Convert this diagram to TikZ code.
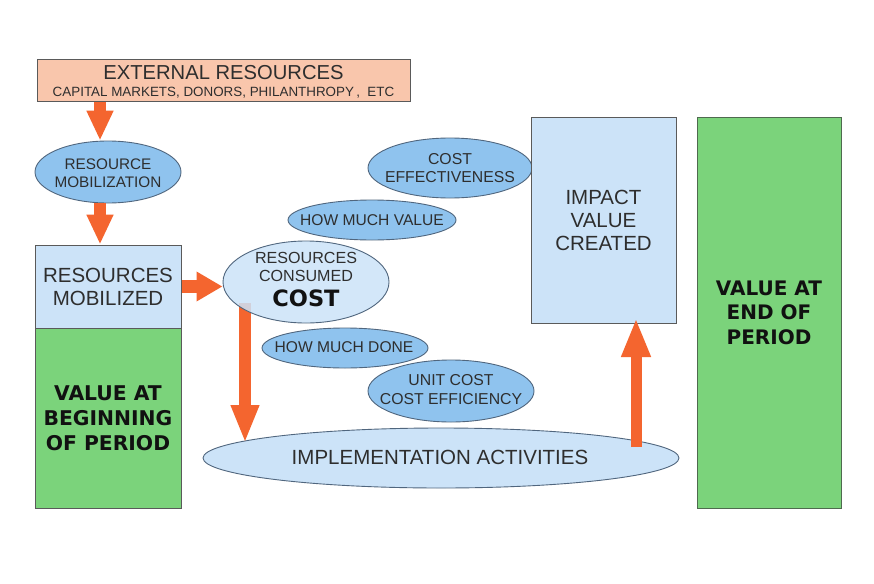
\documentclass[tikz,border=0pt]{standalone}
\usepackage{fontspec}
\setmainfont{Liberation Sans}
\newfontfamily\vfont{DejaVu Sans}
\usetikzlibrary{shapes.geometric,arrows.meta}
\definecolor{orng}{HTML}{F4652F}
\definecolor{salmon}{HTML}{F9C6AC}
\definecolor{ltblue}{HTML}{CCE3F8}
\definecolor{mdblue}{HTML}{8FC3EE}
\definecolor{grn}{HTML}{7BD37B}
\definecolor{edge}{HTML}{5A5A5A}
\definecolor{gedge}{HTML}{4F6A4F}
\definecolor{bedge}{HTML}{50667E}
\definecolor{txt}{HTML}{2E2E2E}
\definecolor{btxt}{HTML}{111111}
\tikzset{
  box/.style={draw=edge, line width=1pt, inner sep=0pt},
  blob/.style={ellipse, draw=bedge, line width=0.9pt, fill=mdblue, inner sep=0pt},
  lblob/.style={blob, fill=ltblue},
  lbl/.style={inner sep=0pt, align=center, text=txt},
  blbl/.style={inner sep=0pt, align=center, text=btxt},
  oarrow/.style={draw=orng, line cap=butt},
}
\begin{document}
\begin{tikzpicture}[x=1pt,y=-1pt]
\useasboundingbox (0,0) rectangle (874,583);
\fill[white] (0,0) rectangle (874,583);

% top box
\node[box, fill=salmon, minimum width=373pt, minimum height=42pt] (ext) at (223.5,81) {};
\node[lbl, font=\fontsize{20.2}{24}\selectfont] (extA) at (223.5,73) {EXTERNAL RESOURCES};
\node[lbl, font=\fontsize{13.4}{16}\selectfont, anchor=base] (extB) at (223.5,96.5) {CAPITAL MARKETS, DONORS, PHILANTHROPY\,,\ \ ETC};

% resource mobilization
\node[blob, minimum width=146pt, minimum height=62pt] (rm) at (108,172) {};
\node[lbl, font=\fontsize{15.3}{18}\selectfont] (rmT) at (108,173) {RESOURCE\\MOBILIZATION};

% left boxes
\node[box, fill=ltblue, minimum width=146pt, minimum height=83pt] (mob) at (108,286.5) {};
\node[box, fill=grn, minimum width=146pt, minimum height=180pt] (beg) at (108,418) {};
\node[lbl, font=\fontsize{20.5}{23}\selectfont] (mobT) at (108,286.5) {RESOURCES\\MOBILIZED};
\node[blbl, font=\vfont\bfseries\fontsize{20.3}{25}\selectfont] (begT) at (108,418) {VALUE AT\\BEGINNING\\OF PERIOD};

% implementation
\node[lblob, minimum width=476pt, minimum height=60pt] (impl) at (441,458) {};
\node[lbl, font=\fontsize{20.5}{24}\selectfont] (implT) at (440,457) {IMPLEMENTATION ACTIVITIES};

% small ellipses
\node[blob, minimum width=164pt, minimum height=60pt] (ce) at (450,168) {};
\node[lbl, font=\fontsize{15.8}{18}\selectfont] (ceT) at (450,168) {COST\\EFFECTIVENESS};
\node[blob, minimum width=168pt, minimum height=40pt] (hv) at (372,220) {};
\node[lbl, font=\fontsize{15.6}{18}\selectfont] (hvT) at (372,220) {HOW MUCH VALUE};
\node[blob, minimum width=166pt, minimum height=40pt] (hd) at (345,348) {};
\node[lbl, font=\fontsize{15.6}{18}\selectfont] (hdT) at (344,347) {HOW MUCH DONE};
\node[blob, minimum width=166pt, minimum height=62pt] (uc) at (451,391) {};
\node[lbl, font=\fontsize{15.8}{19}\selectfont] (ucT) at (451,389.5) {UNIT COST\\COST EFFICIENCY};

% down arrow (behind cost ellipse)
\coordinate (d1) at (245,303);
\coordinate (d2) at (245,443);
\draw[oarrow, line width=12pt, -{Triangle[width=26pt,length=38pt]}] (d1) -- (d2);

% cost ellipse
\node[lblob, fill opacity=0.85, draw opacity=1, minimum width=166pt, minimum height=82pt] (cost) at (306,282) {};
\node[lbl, font=\fontsize{16.1}{18}\selectfont] (costA) at (306,267) {RESOURCES\\CONSUMED};
\node[blbl, font=\vfont\bfseries\fontsize{22.5}{26}\selectfont] (costB) at (306,298) {COST};

% right boxes
\node[box, fill=ltblue, minimum width=145pt, minimum height=206pt] (imp) at (603.5,220) {};
\node[lbl, font=\fontsize{20.5}{23}\selectfont] (impT) at (603.5,220) {IMPACT\\VALUE\\CREATED};
\node[box, draw=gedge, fill=grn, minimum width=144pt, minimum height=391pt] (endv) at (769,312.5) {};
\node[blbl, font=\vfont\bfseries\fontsize{20}{24.5}\selectfont] (endT) at (769,312.5) {VALUE AT\\END OF\\PERIOD};

% arrows
\coordinate (c1) at (100,0);
\draw[oarrow, line width=12pt, -{Triangle[width=25pt,length=30pt]}] (ext.south -| c1) -- (rm.north -| c1);
\draw[oarrow, line width=12pt, -{Triangle[width=25pt,length=30pt]}] (rm.south -| c1) -- (mob.north -| c1);
\draw[oarrow, line width=13pt, -{Triangle[width=28pt,length=26pt]}] (mob.east) -- (mob.east -| cost.west);
\coordinate (u1) at (636,447);
\coordinate (u2) at (636,318);
\draw[oarrow, line width=11pt, -{Triangle[width=27pt,length=39pt]}] (u1) -- (u2);
\end{tikzpicture}
\end{document}
